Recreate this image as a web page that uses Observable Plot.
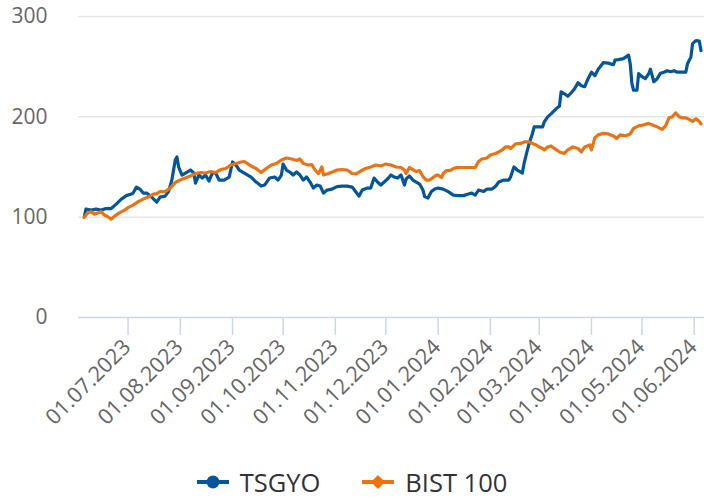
<!DOCTYPE html>
<html><head><meta charset="utf-8">
<script src="https://cdn.jsdelivr.net/npm/d3@7"></script>
<script src="https://cdn.jsdelivr.net/npm/@observablehq/plot@0.6"></script>
<style>
body{margin:0;background:#fff;font-family:"Open Sans",sans-serif;}
#wrap{position:relative;width:704px;height:499px;overflow:hidden;}
#legend{position:absolute;left:0;top:465px;width:704px;height:34px;display:flex;justify-content:center;align-items:center;gap:42px;font-size:25.5px;line-height:34px;color:#333;}
.item{display:flex;align-items:center;gap:11px;}
.item svg{display:block;}
</style></head><body>
<div id="wrap"><div id="chart"></div><div id="legend"></div></div>
<script>
const seriesNames = ["TSGYO", "BIST 100"];
const seriesColors = ["#04559a", "#ec7314"];
const yTicks = [0, 100, 200, 300];
const xTickDates = ["2023-07-01","2023-08-01","2023-09-01","2023-10-01","2023-11-01","2023-12-01","2024-01-01","2024-02-01","2024-03-01","2024-04-01","2024-05-01","2024-06-01"];

const tsgyoDates = ["2023-06-05","2023-06-06","2023-06-09","2023-06-12","2023-06-15","2023-06-18","2023-06-21","2023-06-24","2023-06-27","2023-06-30","2023-07-03","2023-07-04","2023-07-06","2023-07-08","2023-07-10","2023-07-12","2023-07-15","2023-07-18","2023-07-20","2023-07-23","2023-07-25","2023-07-27","2023-07-29","2023-07-30","2023-07-31","2023-08-02","2023-08-05","2023-08-07","2023-08-09","2023-08-10","2023-08-12","2023-08-14","2023-08-16","2023-08-18","2023-08-20","2023-08-22","2023-08-24","2023-08-27","2023-08-30","2023-09-01","2023-09-03","2023-09-05","2023-09-08","2023-09-12","2023-09-15","2023-09-18","2023-09-20","2023-09-23","2023-09-26","2023-09-28","2023-09-30","2023-10-01","2023-10-03","2023-10-05","2023-10-07","2023-10-09","2023-10-11","2023-10-13","2023-10-15","2023-10-17","2023-10-19","2023-10-21","2023-10-23","2023-10-25","2023-10-27","2023-10-30","2023-11-02","2023-11-05","2023-11-08","2023-11-11","2023-11-13","2023-11-15","2023-11-17","2023-11-20","2023-11-22","2023-11-24","2023-11-26","2023-11-28","2023-11-30","2023-12-02","2023-12-04","2023-12-06","2023-12-08","2023-12-10","2023-12-12","2023-12-13","2023-12-15","2023-12-17","2023-12-19","2023-12-21","2023-12-23","2023-12-24","2023-12-26","2023-12-28","2023-12-30","2024-01-01","2024-01-04","2024-01-07","2024-01-10","2024-01-13","2024-01-16","2024-01-19","2024-01-21","2024-01-23","2024-01-25","2024-01-28","2024-01-30","2024-02-02","2024-02-04","2024-02-06","2024-02-09","2024-02-12","2024-02-13","2024-02-15","2024-02-17","2024-02-20","2024-02-21","2024-02-23","2024-02-24","2024-02-26","2024-02-27","2024-02-29","2024-03-03","2024-03-04","2024-03-06","2024-03-08","2024-03-11","2024-03-13","2024-03-14","2024-03-16","2024-03-18","2024-03-20","2024-03-22","2024-03-24","2024-03-26","2024-03-28","2024-03-30","2024-04-01","2024-04-03","2024-04-05","2024-04-08","2024-04-11","2024-04-14","2024-04-15","2024-04-17","2024-04-20","2024-04-23","2024-04-24","2024-04-25","2024-04-26","2024-04-28","2024-04-29","2024-05-01","2024-05-03","2024-05-05","2024-05-06","2024-05-08","2024-05-10","2024-05-12","2024-05-14","2024-05-16","2024-05-18","2024-05-20","2024-05-22","2024-05-25","2024-05-27","2024-05-28","2024-05-30","2024-05-31","2024-06-02","2024-06-04","2024-06-05"];
const tsgyoValues = [100,108,107,108,107,108.6,108.6,113,118,121.5,123,124,130,128,124,124,120,115,120,121,125.5,137,157,160,150,142,145,147,144,134,142,139,142,136,144,144,137,137,140,155,152,147,144,140,135,131,132,139,140,137,142,153,147,145,142,145,142,137,140,135,129,132,131,124,127,128,130.5,131,131,130,125.5,121,127,129,129,139,135,132,135,138,142,140,139,142,132,138,141,137,135,133,127,120.5,119,125.5,128,129,128,125.5,122,121.5,121.5,123,124,122,127,125.5,128,128,130.5,135,137,137,140,150,147,144,153.5,167,173.5,183.5,190,190,190,195,200,203,208,210.5,225,223,220.5,224,228,234,231,230,238,244.5,241,247.5,254,253.5,252,256.5,257,258,261.5,253,233,226.5,226.5,243,240,238,243,247.5,235,238,243.5,244.5,246,245,246,244.5,244.5,244.5,253,259.5,273,276,275.5,266];

const bistDates = ["2023-06-05","2023-06-07","2023-06-09","2023-06-11","2023-06-13","2023-06-15","2023-06-17","2023-06-19","2023-06-21","2023-06-23","2023-06-26","2023-06-29","2023-07-01","2023-07-04","2023-07-07","2023-07-10","2023-07-13","2023-07-16","2023-07-18","2023-07-20","2023-07-23","2023-07-26","2023-07-29","2023-08-01","2023-08-04","2023-08-07","2023-08-10","2023-08-13","2023-08-16","2023-08-19","2023-08-22","2023-08-25","2023-08-28","2023-08-31","2023-09-03","2023-09-06","2023-09-08","2023-09-12","2023-09-15","2023-09-18","2023-09-21","2023-09-24","2023-09-27","2023-09-30","2023-10-03","2023-10-06","2023-10-09","2023-10-11","2023-10-13","2023-10-16","2023-10-18","2023-10-20","2023-10-22","2023-10-24","2023-10-25","2023-10-28","2023-10-31","2023-11-02","2023-11-05","2023-11-08","2023-11-11","2023-11-13","2023-11-16","2023-11-19","2023-11-22","2023-11-25","2023-11-28","2023-12-01","2023-12-04","2023-12-07","2023-12-10","2023-12-12","2023-12-13","2023-12-15","2023-12-17","2023-12-19","2023-12-21","2023-12-23","2023-12-25","2023-12-27","2023-12-29","2023-12-31","2024-01-01","2024-01-03","2024-01-04","2024-01-06","2024-01-08","2024-01-10","2024-01-12","2024-01-15","2024-01-18","2024-01-21","2024-01-23","2024-01-25","2024-01-27","2024-01-30","2024-02-01","2024-02-04","2024-02-06","2024-02-08","2024-02-10","2024-02-12","2024-02-13","2024-02-16","2024-02-19","2024-02-21","2024-02-24","2024-02-26","2024-02-28","2024-03-01","2024-03-03","2024-03-04","2024-03-06","2024-03-08","2024-03-10","2024-03-13","2024-03-16","2024-03-18","2024-03-21","2024-03-24","2024-03-26","2024-03-28","2024-03-31","2024-04-01","2024-04-03","2024-04-05","2024-04-08","2024-04-11","2024-04-14","2024-04-16","2024-04-18","2024-04-21","2024-04-24","2024-04-26","2024-04-29","2024-05-02","2024-05-05","2024-05-07","2024-05-10","2024-05-13","2024-05-15","2024-05-17","2024-05-19","2024-05-21","2024-05-23","2024-05-25","2024-05-27","2024-05-29","2024-05-31","2024-06-02","2024-06-04","2024-06-05"];
const bistValues = [100,104,105.5,103,104,105.5,102,100.5,98,101,104.5,107,109.5,112,115.5,118,120,123,123.5,125.5,125.5,129,134.5,137,139,141,143.5,144.5,144,145.5,144.5,147.5,148.5,152,153.5,155,155.5,151,148.5,144.5,148.5,152,153.5,157,159,158,156.5,158,153.5,152,152.5,147,143.5,150,142,143.5,145.5,147,147.5,147,143.5,143,146,148.5,150,152,151,153,152,150,149.5,147,143.5,149.5,147.5,145.5,146.5,140.5,137,137,139.5,142,142,139.5,143.5,146.5,146.5,148.5,149.5,149.5,149.5,149.5,149.5,155.5,158,159,162,163.5,165,167,170,170,168.5,173,173.5,175,175,173.5,172,170,168.5,167,170,171,168.5,165,163.5,167,170,168.5,165,170,172,167,179,182,183.5,183,181,178.5,182,181,183,188.5,191,192,193.5,192,190,187.5,191,199,200,204,200,199,199,197.5,195.5,198,195.5,193];

const tsgyoRows = tsgyoDates.map((d, i) => ({date: new Date(d), value: tsgyoValues[i]}));
const bistRows = bistDates.map((d, i) => ({date: new Date(d), value: bistValues[i]}));
const tickDates = xTickDates.map(d => new Date(d));
const fmt = d3.utcFormat("%d.%m.%Y");

const chart = Plot.plot({
  width: 704, height: 460,
  marginLeft: 78, marginRight: 0, marginTop: 16, marginBottom: 143,
  style: {fontFamily: "'Open Sans', sans-serif", background: "#fff", overflow: "visible"},
  x: {type: "utc", domain: [new Date(Date.UTC(2023,5,1,14)), new Date(Date.UTC(2024,5,7,2))]},
  y: {domain: [0, 300]},
  marks: [
    Plot.gridY(yTicks.filter(v => v > 0), {stroke: "#e6e6e6", strokeOpacity: 1, strokeWidth: 1.5}),
    Plot.axisY(yTicks, {tickSize: 0, tickPadding: 31, fontSize: 21, fill: "#666", label: null, tickFormat: d => String(d)}),
    Plot.axisX(tickDates, {tickSize: 18, stroke: "#ccd6eb", strokeWidth: 1.5, strokeOpacity: 1, tickFormat: () => "", label: null}),
    Plot.ruleY([0], {stroke: "#ccd6eb", strokeWidth: 1.5}),
    Plot.text(tickDates, {x: d => d, y: () => 0, text: d => fmt(d), rotate: -45, textAnchor: "end", dx: -1, dy: 26, fontSize: 21.5, fill: "#666"}),
    Plot.line(tsgyoRows, {x: "date", y: "value", stroke: seriesColors[0], strokeWidth: 3.2, strokeLinejoin: "round", strokeLinecap: "round"}),
    Plot.line(bistRows, {x: "date", y: "value", stroke: seriesColors[1], strokeWidth: 3.2, strokeLinejoin: "round", strokeLinecap: "round"})
  ]
});
document.getElementById("chart").appendChild(chart);

const legend = document.getElementById("legend");
seriesNames.forEach((name, i) => {
  const item = document.createElement("div");
  item.className = "item";
  const marker = i === 0
    ? `<circle cx="16" cy="10" r="6.5" fill="${seriesColors[i]}"/>`
    : `<path d="M16 3 L23 10 L16 17 L9 10 Z" fill="${seriesColors[i]}"/>`;
  item.innerHTML = `<svg width="32" height="20"><line x1="0" y1="10" x2="32" y2="10" stroke="${seriesColors[i]}" stroke-width="4"/>${marker}</svg><span>${name}</span>`;
  legend.appendChild(item);
});
</script>
</body></html>
